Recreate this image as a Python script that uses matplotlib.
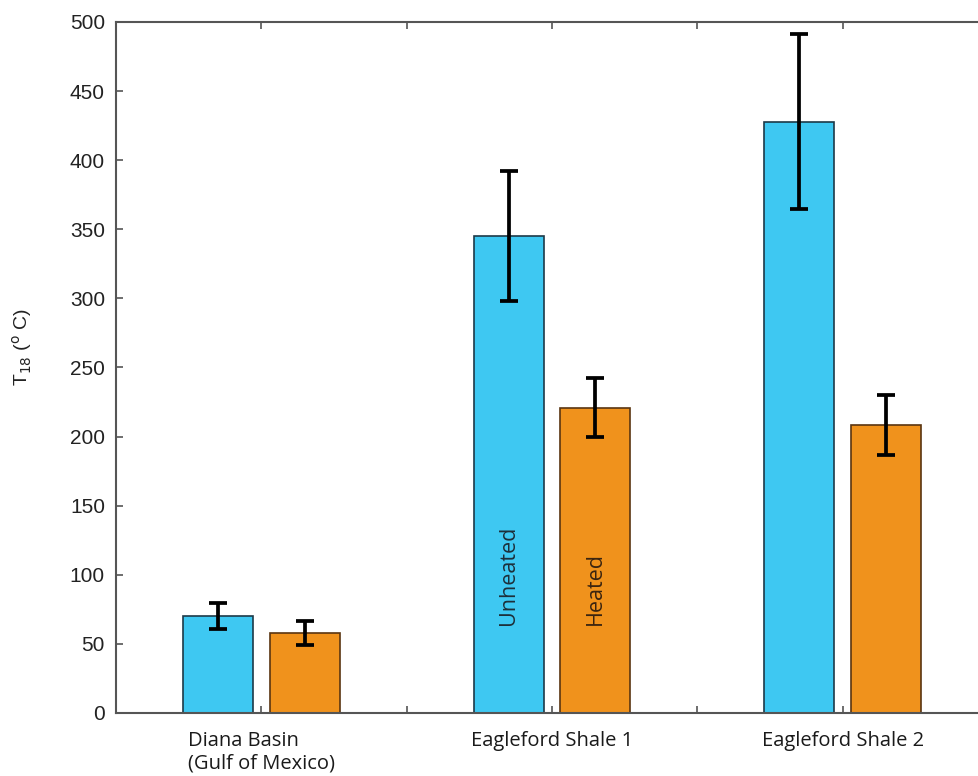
"""T18 clumped-isotope temperatures, unheated vs heated, for three sample sets."""

import matplotlib.pyplot as plt
import numpy as np

sites = ["Diana Basin\n(Gulf of Mexico)", "Eagleford Shale 1", "Eagleford Shale 2"]
unheated = [70, 345, 428]
unheated_err = [9.5, 47, 63.5]
heated = [58, 221, 208.5]
heated_err = [8.5, 21.5, 21.5]
yticks = list(range(0, 501, 50))

BLUE = "#3ec8f2"
ORANGE = "#f0921c"

fig = plt.figure(figsize=(9.79, 7.76), dpi=100)
# axes runs a little past the right edge of the canvas
ax = fig.add_axes([116 / 979, 63 / 776, 872 / 979, 691 / 776])

x = np.arange(1, len(sites) + 1)
w = 0.24
off = 0.149
err_kw = dict(ecolor="black", elinewidth=2.7, capsize=6.5, capthick=2.7)
ax.bar(x - off, unheated, w, yerr=unheated_err, color=BLUE, edgecolor="#1d3a48",
       linewidth=1.2, error_kw=err_kw, zorder=2)
ax.bar(x + off, heated, w, yerr=heated_err, color=ORANGE, edgecolor="#5a3510",
       linewidth=1.2, error_kw=err_kw, zorder=2)

ax.text(x[1] - off, 64, "Unheated", rotation=90, ha="center", va="bottom",
        fontsize=15.5, color="#1d2f3a", family="Open Sans")
ax.text(x[1] + off, 64, "Heated", rotation=90, ha="center", va="bottom",
        fontsize=15.5, color="#3a2410", family="Open Sans")

ax.set_xlim(0.5, 3.5)
ax.set_ylim(0, 500)
ax.set_yticks(yticks)
ax.set_yticklabels([str(v) for v in yticks], family="Liberation Sans", fontsize=15,
                   color="#222222")
ax.set_xticks(np.arange(1, 3.01, 0.5))
ax.set_xticklabels([])
ax.tick_params(direction="in", length=5, width=1.2, color="#555555",
               top=True, right=True, pad=8)

for xi, name in zip(x, sites):
    ax.text(xi, -13, name, ha="center", va="top", multialignment="left",
            fontsize=14.5, family="Open Sans", color="#1a1a1a", linespacing=1.15)

for sp in ax.spines.values():
    sp.set_color("#555555")
    sp.set_linewidth(1.5)

ax.set_ylabel(r"T$_{\rm 18}$ ($^{\rm o}$ C)", family="Liberation Sans", fontsize=14,
              color="#222222")
ax.yaxis.set_label_coords(-0.094, 0.53)

fig.savefig("out.png", dpi=100)
